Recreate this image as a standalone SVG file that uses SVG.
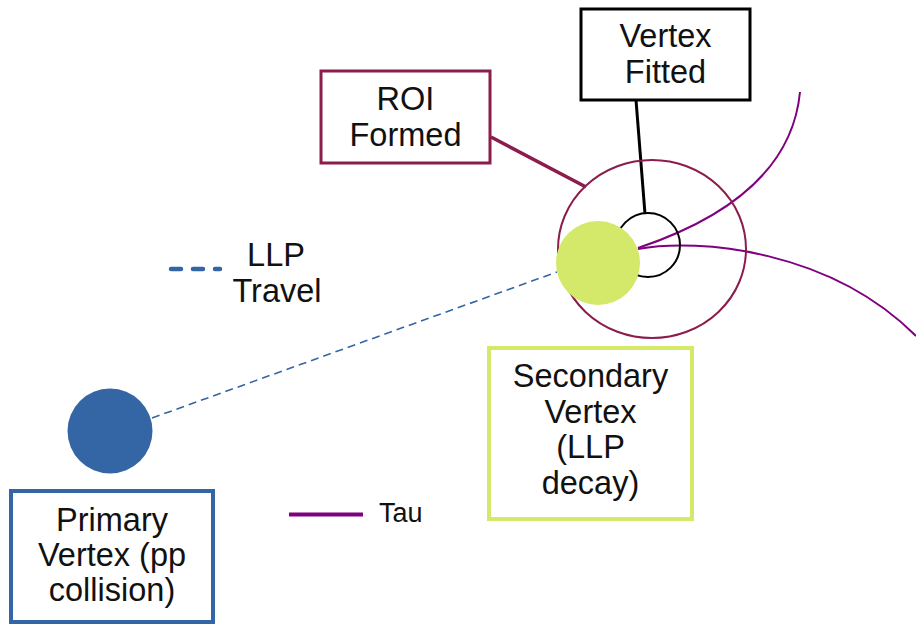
<svg xmlns="http://www.w3.org/2000/svg" width="916" height="625" viewBox="0 0 916 625">
  <style>
    text { font-family: "Liberation Sans", Arial, sans-serif; fill: #111; text-anchor: middle; }
    .lbl { font-size: 32.5px; }
    .small { font-size: 27px; text-anchor: start; }
    .box { fill: #fff; }
    .track { fill: none; stroke: #800080; stroke-width: 2; }
  </style>
  <rect width="916" height="625" fill="#fff"/>

  <!-- connectors and tracks -->
  <g id="connectors">
    <!-- LLP flight path -->
    <line x1="152" y1="418" x2="557" y2="272" stroke="#3465a4" stroke-width="1.6" stroke-dasharray="8,5"/>
    <!-- tau tracks from the secondary vertex -->
    <path class="track" d="M638,248 Q790,197 800,92"/>
    <path class="track" d="M638,249 C700,238 830,250 916,336"/>
    <!-- callout leaders -->
    <line x1="491" y1="137" x2="586" y2="187" stroke="#8b1c4b" stroke-width="3.5"/>
    <line x1="636" y1="100" x2="645" y2="214" stroke="#000" stroke-width="3"/>
  </g>

  <!-- region of interest -->
  <g id="roi-region">
    <ellipse cx="652" cy="249" rx="94" ry="89" fill="none" stroke="#8b1c4b" stroke-width="2"/>
  </g>

  <!-- fitted vertex -->
  <g id="fitted-vertex">
    <circle cx="648" cy="245" r="32" fill="none" stroke="#000" stroke-width="2"/>
  </g>

  <!-- secondary vertex marker -->
  <g id="secondary-vertex-dot">
    <circle cx="598" cy="263" r="42" fill="#d4e86a"/>
  </g>

  <!-- primary vertex marker -->
  <g id="primary-vertex-dot">
    <circle cx="110" cy="431" r="42.5" fill="#3465a4"/>
  </g>

  <!-- label boxes -->
  <g id="roi-formed">
    <rect class="box" x="321" y="71" width="169" height="92" stroke="#8b1c4b" stroke-width="3"/>
    <text class="lbl" x="405.5" y="110">ROI</text>
    <text class="lbl" x="405.5" y="146">Formed</text>
  </g>

  <g id="vertex-fitted">
    <rect class="box" x="581" y="9" width="169" height="91" stroke="#000" stroke-width="3"/>
    <text class="lbl" x="665.5" y="47">Vertex</text>
    <text class="lbl" x="665.5" y="83">Fitted</text>
  </g>

  <g id="secondary-vertex">
    <rect class="box" x="489" y="348" width="203" height="171" stroke="#d4e86a" stroke-width="4"/>
    <text class="lbl" x="590.5" y="387">Secondary</text>
    <text class="lbl" x="590.5" y="422.5">Vertex</text>
    <text class="lbl" x="590.5" y="458">(LLP</text>
    <text class="lbl" x="590.5" y="493.5">decay)</text>
  </g>

  <g id="primary-vertex">
    <rect class="box" x="11" y="491" width="202" height="131" stroke="#3465a4" stroke-width="4"/>
    <text class="lbl" x="112" y="531">Primary</text>
    <text class="lbl" x="112" y="566">Vertex (pp</text>
    <text class="lbl" x="112" y="601">collision)</text>
  </g>

  <!-- legend -->
  <g id="legend-llp">
    <line x1="171" y1="269" x2="220" y2="269" stroke="#3465a4" stroke-width="4.5" stroke-linecap="round" stroke-dasharray="10,12"/>
    <text class="lbl" x="276" y="266">LLP</text>
    <text class="lbl" x="277" y="302">Travel</text>
  </g>

  <g id="legend-tau">
    <line x1="289" y1="514.5" x2="363" y2="514.5" stroke="#800080" stroke-width="4"/>
    <text class="small" x="379" y="522">Tau</text>
  </g>
</svg>
